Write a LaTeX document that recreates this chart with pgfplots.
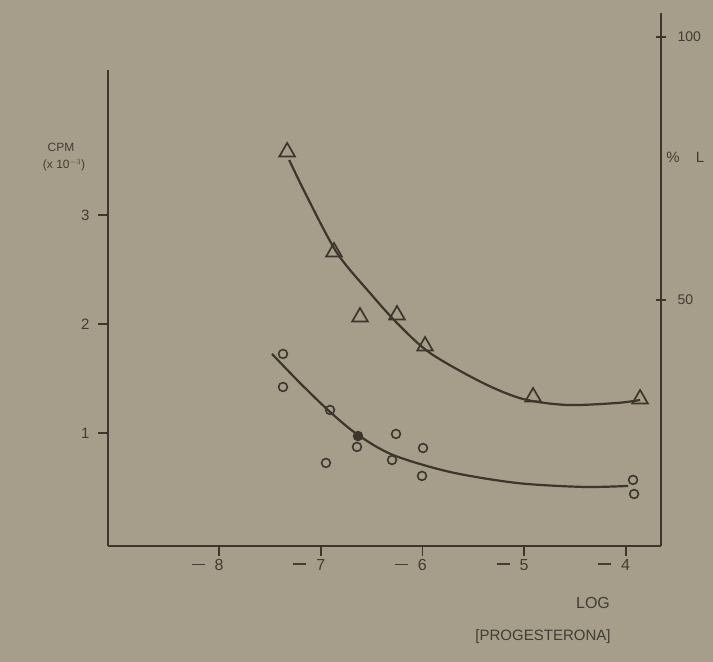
\documentclass[border=0pt]{standalone}
\usepackage{pgfplots}
\pgfplotsset{compat=1.18}
\usepackage{fontspec}
\setmainfont{Liberation Sans}
\definecolor{bg}{RGB}{166,158,138}
\definecolor{ink}{RGB}{60,54,44}
\definecolor{txt}{RGB}{66,61,52}
\newcommand{\xl}[1]{\llap{\rule[0.33em]{13pt}{1.9pt}\hspace{10pt}}#1}
\begin{document}
\begin{tikzpicture}
\useasboundingbox (0pt,0pt) rectangle (713pt,662pt);
\fill[bg] (0pt,0pt) rectangle (713pt,662pt);

% left axis: CPM (x 10^-3), circles
\begin{axis}[
 at={(108pt,116pt)}, anchor=south west,
 scale only axis, width=553pt, height=476pt,
 xmin=-9.094, xmax=-3.652, ymin=-0.037, ymax=4.330,
 axis x line=bottom, axis y line=left,
 axis line style={-, line width=2.4pt, draw=ink},
 xtick={-8,-7,-6,-5,-4},
 xticklabels={\xl{8},\xl{7},\xl{6},\xl{5},\xl{4}},
 ytick={1,2,3}, yticklabels={1,2,3},
 tick align=outside,
 major tick length=10pt,
 tick style={line width=1.8pt, draw=ink},
 xticklabel style={font=\fontsize{16}{18}\selectfont, text=txt},
 yticklabel style={font=\fontsize{15}{17}\selectfont, text=txt, xshift=-5pt},
 clip=false,
]
\addplot[only marks, mark=o, mark size=4.4pt, mark options={line width=1.6pt, draw=ink}] coordinates {
 (-7.372,1.725) (-7.372,1.422) (-6.909,1.211) (-6.644,0.872) (-6.949,0.725)
 (-6.260,0.991) (-6.299,0.752) (-5.994,0.862) (-6.004,0.606) (-3.927,0.569) (-3.917,0.440)
};
\addplot[only marks, mark=*, mark size=4.4pt, mark options={line width=1.6pt, draw=ink, fill=ink}] coordinates {
 (-6.634,0.972)
};
\addplot[smooth, line width=2.2pt, draw=ink] coordinates {
 (-7.480,1.725) (-7.205,1.459) (-6.909,1.193) (-6.634,0.982) (-6.290,0.798)
 (-5.728,0.642) (-5.069,0.541) (-4.420,0.505) (-3.976,0.514)
};
\end{axis}

% right axis: % L, triangles
\begin{axis}[
 at={(108pt,116pt)}, anchor=south west,
 scale only axis, width=553pt, height=533pt,
 xmin=-9.094, xmax=-3.652, ymin=3.23, ymax=104.56,
 axis x line=none, axis y line=right,
 axis line style={-, line width=2.4pt, draw=ink},
 ytick={50,100}, yticklabels={50,100},
 tick align=center,
 major tick length=10pt,
 tick style={line width=1.8pt, draw=ink},
 yticklabel style={font=\fontsize{14}{16}\selectfont, text=txt, xshift=8pt},
 clip=false,
]
\addplot[only marks, mark=triangle, mark size=9pt, mark options={line width=1.7pt, draw=ink}] coordinates {
 (-7.331,78.14) (-6.870,59.13) (-6.614,46.77) (-6.250,47.15) (-5.974,41.25) (-4.911,31.56) (-3.858,31.18)
};
\addplot[smooth, line width=2.2pt, draw=ink] coordinates {
 (-7.311,76.62) (-7.134,69.58) (-6.840,58.94) (-6.516,51.33) (-6.250,45.63)
 (-5.925,39.92) (-5.404,34.22) (-5.010,31.18) (-4.577,30.04) (-4.085,30.42) (-3.858,30.99)
};
\end{axis}

\node[font=\fontsize{12}{14}\selectfont, text=txt] at (61pt,515pt) {CPM};
\node[font=\fontsize{12}{14}\selectfont, text=txt] at (64pt,497pt) {(x 10$^{-3}$)};
\node[font=\fontsize{15}{17}\selectfont, text=txt] at (673pt,505pt) {\%};
\node[font=\fontsize{15}{17}\selectfont, text=txt] at (700pt,505pt) {L};
\node[font=\fontsize{16}{18}\selectfont, text=txt] at (593pt,59pt) {LOG};
\node[font=\fontsize{15}{17}\selectfont, text=txt] at (543pt,25pt) {[PROGESTERONA]};
\end{tikzpicture}
\end{document}
